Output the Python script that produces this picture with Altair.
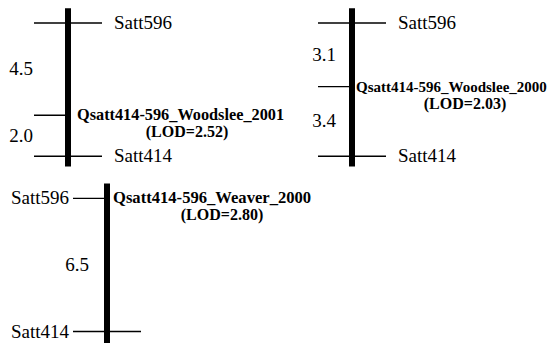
import altair as alt
import pandas as pd

# ---------------- data ----------------
qtl_names = ["Qsatt414-596_Woodslee_2001", "Qsatt414-596_Woodslee_2000", "Qsatt414-596_Weaver_2000"]
lod_values = ["2.52", "2.03", "2.80"]
top_markers = ["Satt596", "Satt596", "Satt596"]
bottom_markers = ["Satt414", "Satt414", "Satt414"]
dist_top_to_qtl = [4.5, 3.1, 0.0]      # cM, Satt596 -> QTL
dist_qtl_to_bottom = [2.0, 3.4, 6.5]   # cM, QTL -> Satt414

# ---------------- layout (positions / styles) ----------------
W, H = 540, 335
PX_PER_CM = 20.5
X0 = 8                                 # layout x units start
bar_x = [68, 352, 107]                 # chromosome bar position, layout units
cm_offset = [0.0, 0.0, 8.55]           # vertical origin of each panel in cM units
dist_label_dx = [-47, -28, -30]
qtl_dx = [9, 4, 6]
qtl_fs = [16.3, 15.0, 16.6]
lod_dx = [119, 113, 115]
bar_top_ext = 0.72                     # cM above first marker
bar_bot_ext = 0.5                      # cM below last marker
TICK = 34
y_min = -15 / PX_PER_CM
y_max = y_min + H / PX_PER_CM

bars, ticks, lab_r, lab_l, dists, qtls, lods = [], [], [], [], [], [], []
for i in range(3):
    bx, off = bar_x[i], cm_offset[i]
    total = dist_top_to_qtl[i] + dist_qtl_to_bottom[i]
    qpos = off + dist_top_to_qtl[i]
    bot = off + total + bar_bot_ext if i < 2 else y_max
    bars.append(dict(x=bx, y=off - bar_top_ext, y2=bot))
    qtl_on_marker = dist_top_to_qtl[i] == 0
    for name, pos in [(top_markers[i], off), (bottom_markers[i], off + total)]:
        right = 0 if (qtl_on_marker and pos == qpos) else TICK
        ticks.append(dict(x=bx - TICK, x2=bx + right, y=pos))
        if qtl_on_marker:
            lab_l.append(dict(x=bx - 38, y=pos, t=name))
        else:
            lab_r.append(dict(x=bx + 46, y=pos, t=name))
    if not qtl_on_marker:
        ticks.append(dict(x=bx - TICK, x2=bx, y=qpos))
    if dist_top_to_qtl[i] > 0:
        dists.append(dict(x=bx + dist_label_dx[i], y=off + dist_top_to_qtl[i] / 2,
                          t=f"{dist_top_to_qtl[i]:.1f}"))
    dists.append(dict(x=bx + dist_label_dx[i], y=qpos + dist_qtl_to_bottom[i] / 2,
                      t=f"{dist_qtl_to_bottom[i]:.1f}"))
    qtls.append(dict(x=bx + qtl_dx[i], y=qpos, t=qtl_names[i], fs=qtl_fs[i]))
    lods.append(dict(x=bx + lod_dx[i], y=qpos + 17 / PX_PER_CM, t=f"(LOD={lod_values[i]})"))

xs = alt.Scale(domain=[X0, X0 + W])
ys = alt.Scale(domain=[y_min, y_max], reverse=True)
FONT = "Liberation Serif"

def X(f="x"):
    return alt.X(f"{f}:Q", scale=xs, axis=None)

def Y(f="y"):
    return alt.Y(f"{f}:Q", scale=ys, axis=None)

bar_l = alt.Chart(pd.DataFrame(bars)).mark_rule(color="black", strokeWidth=6).encode(
    x=X(), y=Y(), y2="y2:Q")
tick_l = alt.Chart(pd.DataFrame(ticks)).mark_rule(color="black", strokeWidth=1.3).encode(
    x=X(), x2="x2:Q", y=Y())
labr_l = alt.Chart(pd.DataFrame(lab_r)).mark_text(
    align="left", baseline="middle", font=FONT, fontSize=19, fill="black").encode(
    x=X(), y=Y(), text="t:N")
labl_l = alt.Chart(pd.DataFrame(lab_l)).mark_text(
    align="right", baseline="middle", font=FONT, fontSize=19, fill="black").encode(
    x=X(), y=Y(), text="t:N")
dist_l = alt.Chart(pd.DataFrame(dists)).mark_text(
    align="center", baseline="middle", font=FONT, fontSize=19, fill="black").encode(
    x=X(), y=Y(), text="t:N")
qtl_l = alt.Chart(pd.DataFrame(qtls)).mark_text(
    align="left", baseline="middle", font=FONT, fontWeight="bold", fill="black").encode(
    x=X(), y=Y(), text="t:N", size=alt.Size("fs:Q", scale=None, legend=None))
lod_l = alt.Chart(pd.DataFrame(lods)).mark_text(
    align="center", baseline="middle", font=FONT, fontWeight="bold", fontSize=16,
    fill="black").encode(x=X(), y=Y(), text="t:N")

chart = alt.layer(bar_l, tick_l, labr_l, labl_l, dist_l, qtl_l, lod_l).properties(
    width=W, height=H, padding=0,
    autosize=alt.AutoSizeParams(type="none"),
    background="white",
).configure_view(stroke=None).configure_text(font=FONT)

chart.save("out.html", embed_options={"renderer": "svg", "actions": False})
